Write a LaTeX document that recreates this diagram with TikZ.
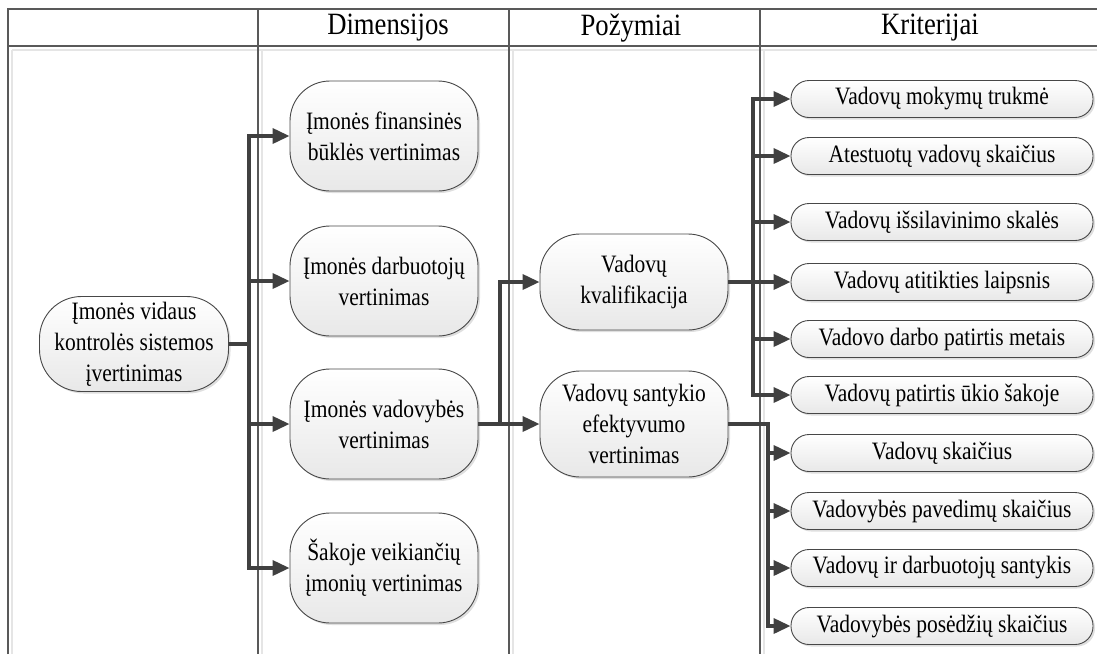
\documentclass[tikz,border=0pt]{standalone}
\usepackage{fontspec}
\setmainfont{Liberation Serif}[FakeStretch=0.86]
\usetikzlibrary{arrows.meta,shadows}

\begin{document}
\begin{tikzpicture}
  [x=1pt,y=-1pt,
   box/.style={draw=black!72,line width=0.9pt,top color=white,bottom color=black!9,
     drop shadow={shadow xshift=2pt,shadow yshift=-2pt,opacity=.25},
     align=center,inner sep=0pt,font=\fontsize{25}{31}\selectfont},
   dim/.style={box,minimum width=188pt,minimum height=110pt,rounded corners=40pt},
   crit/.style={box,minimum width=302pt,minimum height=37pt,rounded corners=18pt},
   arr/.style={draw=black!75,line width=3.5pt,-{Triangle[length=17pt,width=15pt]}},
   lane/.style={draw=black!65,line width=1.2pt},
   ghost/.style={draw=black!10,line width=1.2pt},
   head/.style={font=\fontsize{31}{36}\selectfont}]
  \useasboundingbox (0,0) rectangle (1097,654);

  % swimlanes
  \draw[ghost] (12,50) -- (1097,50);
  \foreach \x in {12,262,513,764}
    \draw[ghost] (\x,50) -- (\x,654);
  \draw[lane] (8,654) -- (8,9) -- (1097,9);
  \draw[lane] (8,46) -- (1097,46);
  \foreach \x in {258,509,760}
    \draw[lane] (\x,9) -- (\x,654);

  \node[head] (h1) at (388,28) {Dimensijos};
  \node[head] (h2) at (631,28) {Požymiai};
  \node[head] (h3) at (930,28) {Kriterijai};

  % main node and dimensions
  \node[box,minimum width=189pt,minimum height=95pt,rounded corners=42pt] (vk) at (134,344)
    {Įmonės vidaus\\kontrolės sistemos\\įvertinimas};
  \node[dim] (d1) at (384,136) {Įmonės finansinės\\būklės vertinimas};
  \node[dim] (d2) at (384,281) {Įmonės darbuotojų\\vertinimas};
  \node[dim] (d3) at (384,424) {Įmonės vadovybės\\vertinimas};
  \node[dim] (d4) at (384,568) {Šakoje veikiančių\\įmonių vertinimas};

  % features
  \node[dim,minimum height=96pt] (p1) at (634,282) {Vadovų\\kvalifikacija};
  \node[dim,minimum height=106pt] (p2) at (634,424) {Vadovų santykio\\efektyvumo\\vertinimas};

  % criteria
  \foreach \y/\t [count=\i] in {99/Vadovų mokymų trukmė, 156/Atestuotų vadovų skaičius,
      222/Vadovų išsilavinimo skalės, 282/Vadovų atitikties laipsnis,
      339/Vadovo darbo patirtis metais, 395/Vadovų patirtis ūkio šakoje,
      453/Vadovų skaičius, 511/Vadovybės pavedimų skaičius,
      568/Vadovų ir darbuotojų santykis, 626/Vadovybės posėdžių skaičius}
    \node[crit] (k\i) at (942,\y) {\t};

  % connectors
  \coordinate (t1) at (249,0);
  \coordinate (t2) at (500,0);
  \coordinate (t3) at (753,0);
  \coordinate (t4) at (768,0);
  \foreach \i in {1,...,4}
    \draw[arr] (vk.east) -- (vk.east -| t1) |- (d\i.west);
  \foreach \i in {1,2}
    \draw[arr] (d3.east) -- (d3.east -| t2) |- (p\i.west);
  \foreach \i in {1,...,6}
    \draw[arr] (p1.east) -- (p1.east -| t3) |- (k\i.west);
  \foreach \i in {7,...,10}
    \draw[arr] (p2.east) -- (p2.east -| t4) |- (k\i.west);
\end{tikzpicture}
\end{document}
